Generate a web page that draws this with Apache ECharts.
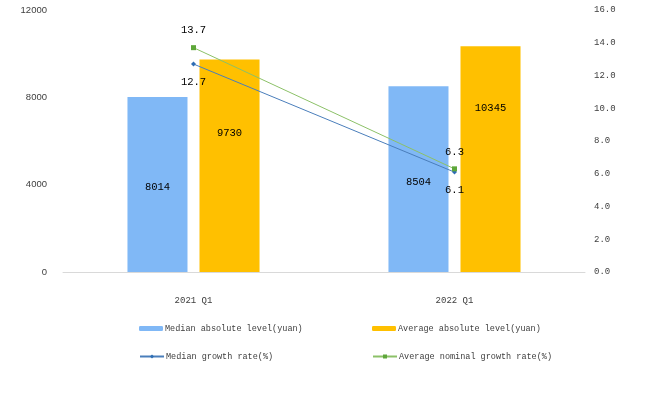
<!DOCTYPE html>
<html>
<head>
<meta charset="utf-8">
<script src="https://cdn.jsdelivr.net/npm/echarts@6/dist/echarts.min.js"></script>
<style>html,body{margin:0;padding:0;background:#fff}</style>
</head>
<body>
<div id="myChart" style="width:660px;height:398px"></div>
<script>
// 数据
var categories = ['2021 Q1', '2022 Q1'];
var medianLevel = [8014, 8504];
var averageLevel = [9730, 10345];
var medianGrowth = [12.7, 6.1];
var averageGrowth = [13.7, 6.3];
var seriesNames = [
	'Median absolute level(yuan)',
	'Average absolute level(yuan)',
	'Median growth rate(%)',
	'Average nominal growth rate(%)'
];

var mono = 'Liberation Mono';
var myChart = echarts.init(document.getElementById('myChart'));

// 每个图例单独定位
function legendAt(name, left, top) {
	return {
		data: [name],
		left: left,
		top: top,
		itemWidth: 24,
		itemHeight: 5,
		itemGap: 0,
		textStyle: {fontFamily: mono, fontSize: 8.5, color: '#404040', padding: [0, 0, 0, -3]}
	};
}

myChart.setOption({
	animation: false,
	grid: {left: 63, right: 75, top: 10, bottom: 126},
	legend: [
		legendAt(seriesNames[0], 134, 319),
		legendAt(seriesNames[1], 367, 319),
		legendAt(seriesNames[2], 134, 347),
		legendAt(seriesNames[3], 367, 347)
	],
	xAxis: [{
		type: 'category',
		data: categories,
		axisLine: {lineStyle: {color: '#D9D9D9', width: 1}},
		axisTick: {show: false},
		axisLabel: {margin: 24, fontFamily: mono, fontSize: 9, color: '#404040'}
	}],
	yAxis: [{
		type: 'value',
		min: 0, max: 12000, interval: 4000,
		splitLine: {show: false},
		axisLine: {show: false},
		axisTick: {show: false},
		axisLabel: {
			margin: 16, fontFamily: 'Liberation Sans', fontSize: 9.5, color: '#404040',
			formatter: function (v) { return String(v); }
		}
	}, {
		type: 'value',
		min: 0, max: 16, interval: 2,
		splitLine: {show: false},
		axisLine: {show: false},
		axisTick: {show: false},
		axisLabel: {
			margin: 9, fontFamily: mono, fontSize: 9, color: '#404040',
			formatter: function (v) { return v.toFixed(1); }
		}
	}],
	series: [{
		name: seriesNames[0],
		type: 'bar',
		data: medianLevel,
		barWidth: '23%',
		barGap: '20%',
		itemStyle: {color: '#80B8F6'},
		label: {show: true, position: 'inside', offset: [0, 3], fontFamily: mono, fontSize: 10.5, color: '#000'}
	}, {
		name: seriesNames[1],
		type: 'bar',
		data: averageLevel.map(function (v, i) {
			return {value: v, label: {offset: [0, i === 0 ? -33 : -51]}};
		}),
		barWidth: '23%',
		itemStyle: {color: '#FFC000'},
		label: {show: true, position: 'inside', fontFamily: mono, fontSize: 10.5, color: '#000'}
	}, {
		name: seriesNames[2],
		type: 'line',
		yAxisIndex: 1,
		data: medianGrowth,
		symbol: 'diamond',
		symbolSize: 5,
		lineStyle: {color: '#4A7EBB', width: 1},
		itemStyle: {color: '#2E6DB4'},
		label: {show: true, position: 'bottom', distance: 10, fontFamily: mono, fontSize: 10.5, color: '#000'}
	}, {
		name: seriesNames[3],
		type: 'line',
		yAxisIndex: 1,
		data: averageGrowth,
		symbol: 'rect',
		symbolSize: 5,
		lineStyle: {color: '#8CC168', width: 1},
		itemStyle: {color: '#5EA73A'},
		label: {show: true, position: 'top', distance: 9, fontFamily: mono, fontSize: 10.5, color: '#000'}
	}]
});
</script>
</body>
</html>
